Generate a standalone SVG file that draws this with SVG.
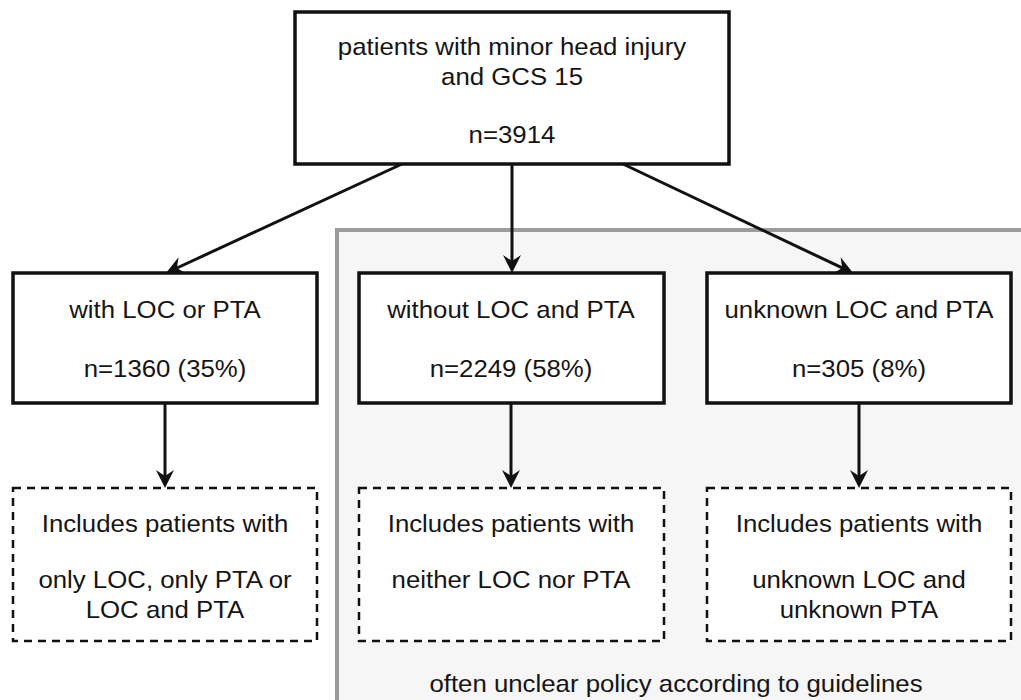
<svg xmlns="http://www.w3.org/2000/svg" width="1021" height="700" viewBox="0 0 1021 700">
<style>
.box{fill:#fff;stroke:#111;stroke-width:3.5}
.dbox{fill:#fff;stroke:#111;stroke-width:2.5;stroke-dasharray:8 6}
.t{font-family:"Liberation Sans",Arial,Helvetica,sans-serif;font-size:24px;fill:#151515;text-anchor:middle}
.c{fill:none;stroke:#111;stroke-width:3;marker-end:url(#ah)}
</style>
<defs>
<marker id="ah" viewBox="0 0 18 18" markerWidth="18" markerHeight="18" refX="6" refY="9" orient="auto" markerUnits="userSpaceOnUse">
<path d="M0,0 L18,9 L0,18 L6,9 z" fill="#111"/>
</marker>
</defs>
<rect width="1021" height="700" fill="#fff"/>
<g id="region">
<rect x="337" y="230" width="720" height="520" fill="#f6f6f6" stroke="#9c9c9c" stroke-width="4"/>
<text class="t" transform="translate(676 692) scale(1.075 1)">often unclear policy according to guidelines</text>
</g>
<g id="connectors">
<line class="c" x1="402" y1="164" x2="176.9" y2="268"/>
<line class="c" x1="512" y1="164" x2="512" y2="261"/>
<line class="c" x1="623" y1="164" x2="842.2" y2="267.9"/>
<line class="c" x1="165" y1="403" x2="165" y2="476"/>
<line class="c" x1="511" y1="403" x2="511" y2="476"/>
<line class="c" x1="859" y1="403" x2="859" y2="476"/>
</g>
<g id="top">
<rect class="box" x="295" y="12" width="434" height="152"/>
<text class="t" transform="translate(512 55) scale(1.075 1)">patients with minor head injury</text>
<text class="t" transform="translate(512 85) scale(1.075 1)">and GCS 15</text>
<text class="t" transform="translate(512 143) scale(1.075 1)">n=3914</text>
</g>
<g id="withLOC">
<rect class="box" x="13" y="273" width="304" height="130"/>
<text class="t" transform="translate(165 318) scale(1.075 1)">with LOC or PTA</text>
<text class="t" transform="translate(165 377) scale(1.075 1)">n=1360 (35%)</text>
</g>
<g id="withoutLOC">
<rect class="box" x="359" y="273" width="305" height="130"/>
<text class="t" transform="translate(511 318) scale(1.075 1)">without LOC and PTA</text>
<text class="t" transform="translate(511 377) scale(1.075 1)">n=2249 (58%)</text>
</g>
<g id="unknownLOC">
<rect class="box" x="707" y="273" width="304" height="130"/>
<text class="t" transform="translate(859 318) scale(1.075 1)">unknown LOC and PTA</text>
<text class="t" transform="translate(859 377) scale(1.075 1)">n=305 (8%)</text>
</g>
<g id="incl1">
<rect class="dbox" x="13" y="488" width="304" height="153"/>
<text class="t" transform="translate(165 532) scale(1.075 1)">Includes patients with</text>
<text class="t" transform="translate(165 588) scale(1.075 1)">only LOC, only PTA or</text>
<text class="t" transform="translate(165 618) scale(1.075 1)">LOC and PTA</text>
</g>
<g id="incl2">
<rect class="dbox" x="359" y="488" width="305" height="153"/>
<text class="t" transform="translate(511 532) scale(1.075 1)">Includes patients with</text>
<text class="t" transform="translate(511 588) scale(1.075 1)">neither LOC nor PTA</text>
</g>
<g id="incl3">
<rect class="dbox" x="707" y="488" width="304" height="153"/>
<text class="t" transform="translate(859 532) scale(1.075 1)">Includes patients with</text>
<text class="t" transform="translate(859 588) scale(1.075 1)">unknown LOC and</text>
<text class="t" transform="translate(859 618) scale(1.075 1)">unknown PTA</text>
</g>
</svg>
